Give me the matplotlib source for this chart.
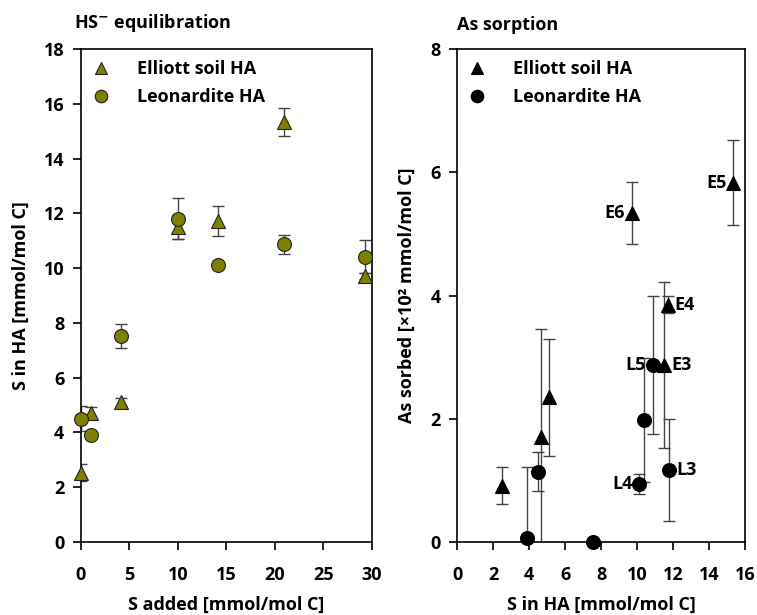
import matplotlib.pyplot as plt
from matplotlib.lines import Line2D

plt.rcParams['font.family'] = ['Open Sans', 'DejaVu Sans']
plt.rcParams['font.weight'] = 'bold'
plt.rcParams['font.size'] = 13

# HS- equilibration
s_added = [0, 1, 4.1, 10, 14.1, 21, 29.3]
elliott_s = [2.53, 4.72, 5.12, 11.51, 11.73, 15.35, 9.71]
elliott_s_err = [0.32, 0.22, 0.15, 0.45, 0.56, 0.52, 0.1]
leon_s = [4.51, 3.91, 7.53, 11.8, 10.11, 10.88, 10.42]
leon_s_err = [0.45, 0.0, 0.43, 0.75, 0.0, 0.35, 0.6]

# As sorption
elliott_x = [2.48, 4.67, 5.09, 9.7, 15.35, 11.7, 11.5]
elliott_as = [0.91, 1.71, 2.35, 5.34, 5.83, 3.85, 2.87]
elliott_as_err = [0.3, 1.75, 0.95, 0.5, 0.69, 0.14, 1.35]
elliott_labels = ["", "", "", "E6", "E5", "E4", "E3"]

leon_x = [3.9, 4.52, 7.54, 10.13, 10.4, 10.87, 11.8]
leon_as = [0.07, 1.14, 0.0, 0.94, 1.98, 2.87, 1.17]
leon_as_err = [1.14, 0.32, 0.0, 0.16, 1.0, 1.12, 0.83]
leon_labels = ["", "", "", "L4", "", "L5", "L3"]

label_side = {"E6": "left", "E5": "left", "E4": "right", "E3": "right",
              "L4": "left", "L5": "left", "L3": "right"}

fig = plt.figure(figsize=(7.57, 6.15), dpi=100)
ax1 = fig.add_axes([0.107, 0.1187, 0.384, 0.8013])
ax2 = fig.add_axes([0.604, 0.1187, 0.380, 0.8013])

olive = "#808000"
err_kw = dict(fmt="none", ecolor="#444444", elinewidth=1, capsize=4, capthick=1, zorder=2)


def draw(ax, x, y, err, marker, face, edge):
    ax.errorbar(x, y, yerr=err, **err_kw)
    ax.plot(x, y, linestyle="none", marker=marker, markersize=10,
            markerfacecolor=face, markeredgecolor=edge, markeredgewidth=0.8,
            clip_on=False, zorder=3)


draw(ax1, s_added, elliott_s, elliott_s_err, "^", olive, "#222222")
draw(ax1, s_added, leon_s, leon_s_err, "o", olive, "#222222")

ax1.set_xlim(0, 30)
ax1.set_ylim(0, 18)
ax1.set_xticks(range(0, 31, 5))
ax1.set_yticks(range(0, 19, 2))
ax1.set_xlabel("S added [mmol/mol C]", fontweight="bold", labelpad=9)
ax1.set_ylabel("S in HA [mmol/mol C]", fontweight="bold", labelpad=10)
ax1.text(-0.025, 1.03, r"HS$^{\mathbf{-}}$ equilibration", transform=ax1.transAxes,
         fontweight="bold", ha="left", va="bottom")

draw(ax2, elliott_x, elliott_as, elliott_as_err, "^", "black", "black")
draw(ax2, leon_x, leon_as, leon_as_err, "o", "black", "black")

for xs, ys, labs in [(elliott_x, elliott_as, elliott_labels), (leon_x, leon_as, leon_labels)]:
    for x, y, lab in zip(xs, ys, labs):
        if not lab:
            continue
        if label_side[lab] == "left":
            ax2.annotate(lab, (x, y), xytext=(-5, 0), textcoords="offset points",
                         ha="right", va="center", fontweight="bold")
        else:
            ax2.annotate(lab, (x, y), xytext=(5, 0), textcoords="offset points",
                         ha="left", va="center", fontweight="bold")

ax2.set_xlim(0, 16)
ax2.set_ylim(0, 8)
ax2.set_xticks(range(0, 17, 2))
ax2.set_yticks(range(0, 9, 2))
ax2.set_xlabel("S in HA [mmol/mol C]", fontweight="bold", labelpad=9)
ax2.set_ylabel("As sorbed [×10² mmol/mol C]", fontweight="bold", labelpad=10)
ax2.text(0.0, 1.03, "As sorption", transform=ax2.transAxes,
         fontweight="bold", ha="left", va="bottom")

legend_faces = [olive, "black"]
for ax, face in zip((ax1, ax2), legend_faces):
    for sp in ax.spines.values():
        sp.set_linewidth(1.2)
    ax.tick_params(axis="both", direction="out", length=6, width=1.2)
    ax.tick_params(axis="x", pad=11)
    ax.tick_params(axis="y", pad=6)
    edge = "#222222" if face == olive else "black"
    handles = [
        Line2D([], [], linestyle="none", marker="^", markersize=9,
               markerfacecolor=face, markeredgecolor=edge, markeredgewidth=0.8),
        Line2D([], [], linestyle="none", marker="o", markersize=9,
               markerfacecolor=face, markeredgecolor=edge, markeredgewidth=0.8),
    ]
    ax.legend(handles, ["Elliott soil HA", "Leonardite HA"], loc="upper left",
              frameon=False, handlelength=1.0, handletextpad=1.5,
              borderaxespad=0.3, borderpad=0.3, labelspacing=0.55,
              prop={"weight": "bold", "size": 13})

fig.savefig("out.png", dpi=100)
